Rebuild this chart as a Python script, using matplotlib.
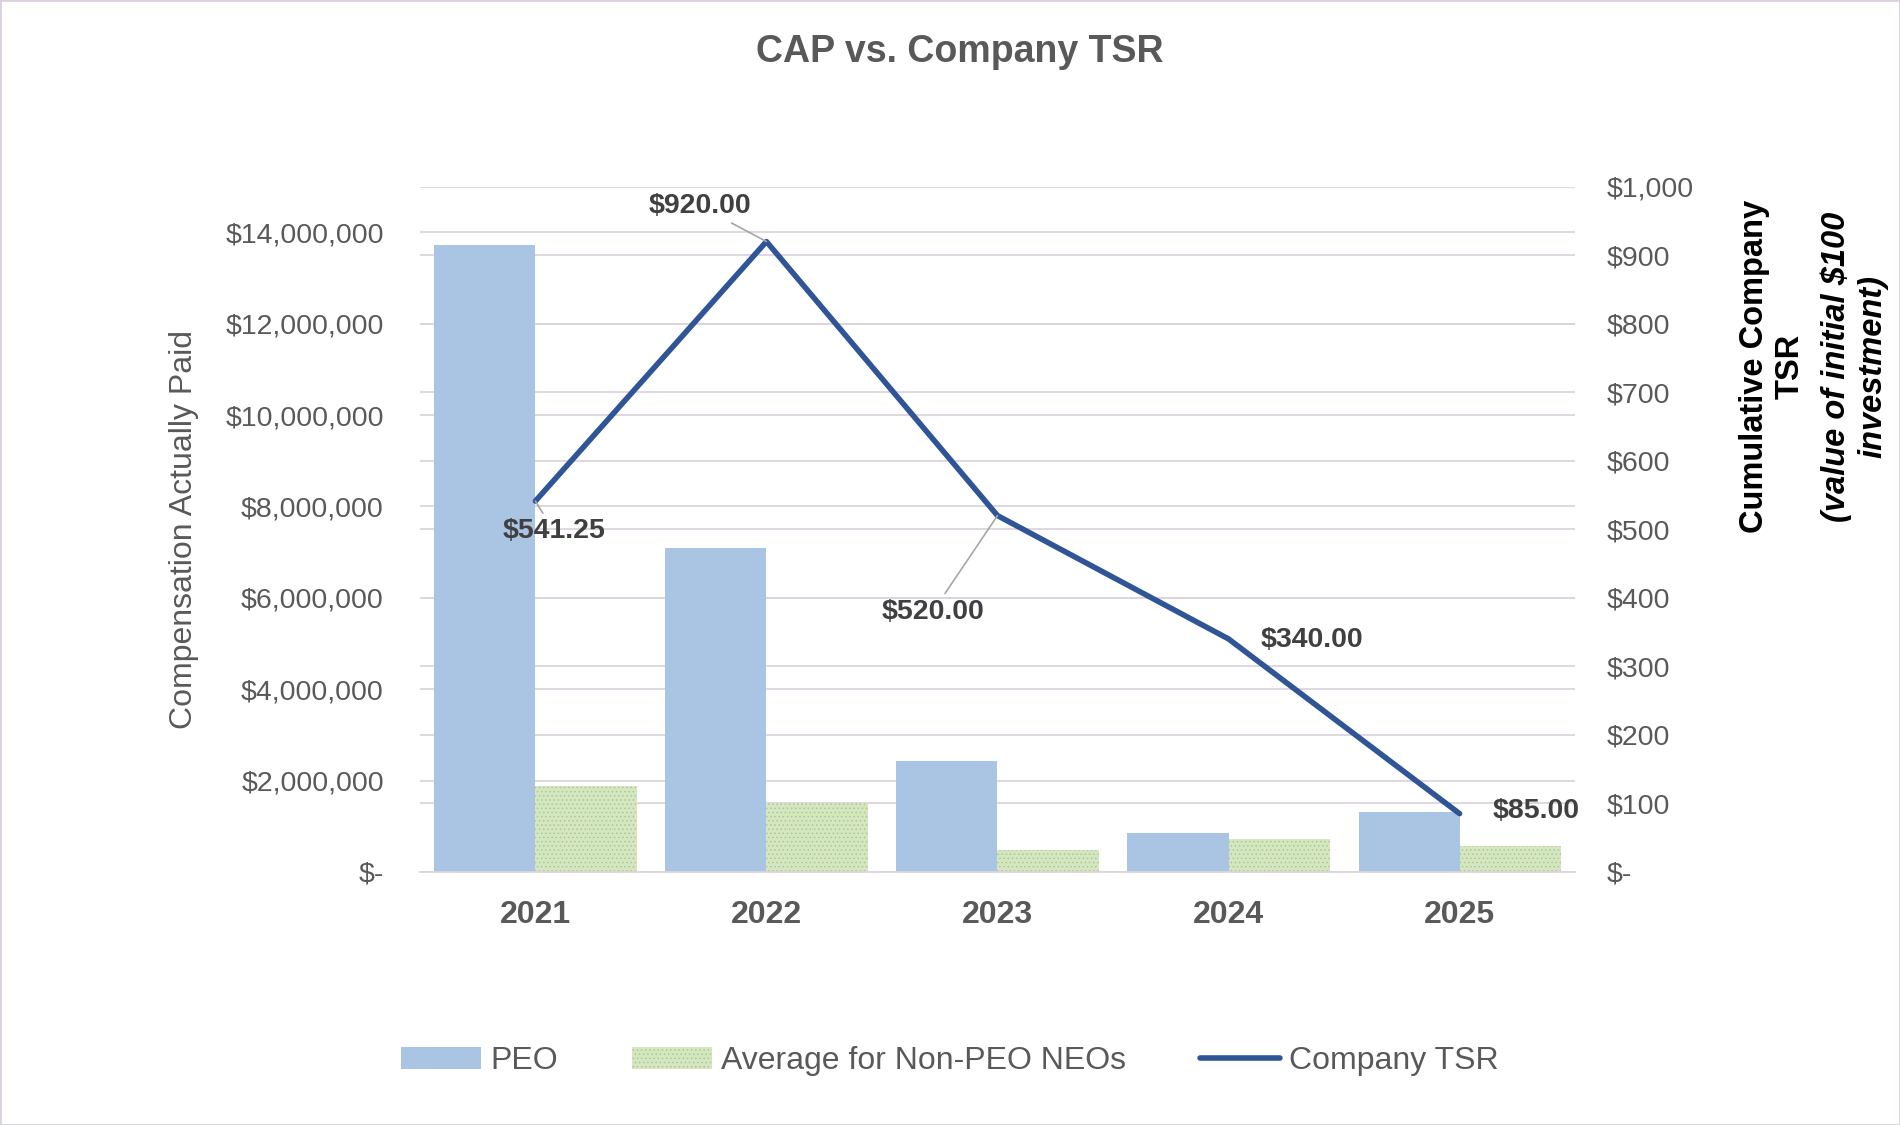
import matplotlib.pyplot as plt
from matplotlib.ticker import FuncFormatter, MultipleLocator
from matplotlib.patches import Rectangle

plt.rcParams['font.family'] = ['Liberation Sans', 'DejaVu Sans']
plt.rcParams['hatch.linewidth'] = 0.6

years = ['2021', '2022', '2023', '2024', '2025']
peo_cap = [13730000, 7100000, 2420000, 850000, 1300000]
neo_cap = [1880000, 1500000, 480000, 720000, 560000]
tsr = [541.25, 920.00, 520.00, 340.00, 85.00]

# label positions (x in category units, y in TSR units) and whether a leader line is drawn
label_pos = [(0.08, 497, True), (0.71, 972, True), (1.72, 380, True),
             (3.36, 338, False), (4.33, 89, False)]

grid_c = '#dcd4de'
txt_c = '#595959'

fig = plt.figure(figsize=(19, 11.25), dpi=100)
ax = fig.add_axes([0.221, 0.225, 0.608, 0.609])
ax2 = ax.twinx()
ax.set_zorder(2)
ax2.set_zorder(1)
ax.patch.set_visible(False)

idx = list(range(len(years)))
w = 0.4375
b1 = ax.bar([i - w / 2 for i in idx], peo_cap, w, color='#aac4e4', label='PEO', zorder=2)
b2 = ax.bar([i + w / 2 for i in idx], neo_cap, w, facecolor='#d3e8bd', edgecolor='#b5bfa8',
            hatch='....', linewidth=0, label='Average for Non-PEO NEOs', zorder=2)

ln, = ax.plot(idx, tsr, color='#2f5597', lw=4, solid_capstyle='round',
              transform=ax2.transData, zorder=3, label='Company TSR')

for i, v in enumerate(tsr):
    tx, ty, lead = label_pos[i]
    ax.annotate('${:,.2f}'.format(v), xy=(i, v), xycoords=ax2.transData,
                xytext=(tx, ty), textcoords=ax2.transData,
                ha='center', va='center', fontsize=20.5, fontweight='bold', color='#404040',
                arrowprops=dict(arrowstyle='-', color='#a6a6a6', lw=1.2,
                                shrinkA=2, shrinkB=0) if lead else None,
                zorder=4)

ax.set_xlim(-0.5, 4.5)
ax.set_ylim(0, 15000000)
ax2.set_ylim(0, 1000)
ax.set_yticks(range(0, 14000001, 2000000))
ax2.yaxis.set_major_locator(MultipleLocator(100))

ax.yaxis.set_major_formatter(FuncFormatter(lambda v, p: '$-' if v == 0 else '${:,.0f}'.format(v)))
ax2.yaxis.set_major_formatter(FuncFormatter(lambda v, p: '$-' if v == 0 else '${:,.0f}'.format(v)))

ax.set_xticks(idx)
ax.set_xticklabels(years, fontsize=23, fontweight='bold', color=txt_c)
ax.tick_params(axis='x', length=0, pad=20)
ax.tick_params(axis='y', length=0, pad=26, labelsize=20.5, labelcolor=txt_c)
ax2.tick_params(axis='y', length=0, pad=23, labelsize=20.5, labelcolor=txt_c)

ax.grid(axis='y', color=grid_c, lw=1.3, zorder=0)
ax.set_axisbelow(True)
ax2.grid(axis='y', color=grid_c, lw=1.3)
for a in (ax, ax2):
    for s in a.spines.values():
        s.set_visible(False)
ax.spines['bottom'].set_visible(True)
ax.spines['bottom'].set_color(grid_c)
ax.spines['bottom'].set_linewidth(1.3)

ax.set_ylabel('Compensation Actually Paid', fontsize=23, color=txt_c)
ax.yaxis.set_label_coords(-0.191, 0.5)

fig.text(0.933, 0.674, 'Cumulative Company\nTSR', rotation=90, ha='center', va='center',
         fontsize=23.5, fontweight='bold', color='black', linespacing=1.2)
fig.text(0.976, 0.674, '(value of initial $100\ninvestment)', rotation=90, ha='center',
         va='center', fontsize=23.5, fontweight='bold', fontstyle='italic', color='black',
         linespacing=1.2)

fig.text(0.505, 0.954, 'CAP vs. Company TSR', ha='center', va='center', fontsize=27,
         fontweight='bold', color=txt_c)

fig.legend(handles=[b1, b2, ln], loc='center', bbox_to_anchor=(0.5, 0.057), ncol=3,
           frameon=False, fontsize=23, handlelength=2.5, handleheight=0.7,
           handletextpad=0.3, columnspacing=2.3, labelcolor=txt_c)

fig.patches.append(Rectangle((0, 0), 1, 1, transform=fig.transFigure, fill=False,
                             edgecolor='#dccfe0', lw=2))

plt.savefig('out.png', dpi=100)
